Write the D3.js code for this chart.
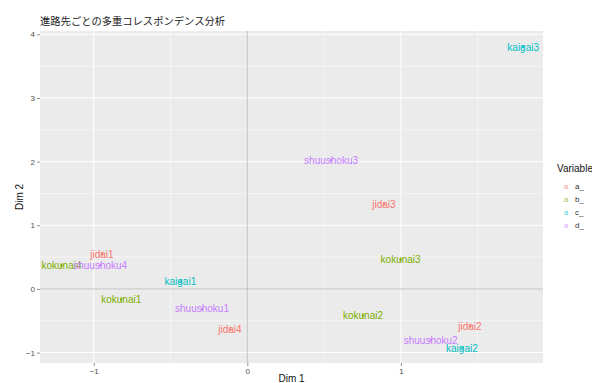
<!DOCTYPE html>
<html><head><meta charset="utf-8">
<script src="https://cdn.jsdelivr.net/npm/d3@7"></script>
<style>body{margin:0;background:#fff}svg{display:block;font-family:"Liberation Sans",Arial,sans-serif}</style>
</head><body><svg id="c" width="592" height="383"></svg>
<script>
const labels = ["jidai1","jidai2","jidai3","jidai4","kokunai1","kokunai2","kokunai3","kokunai4","kaigai1","kaigai2","kaigai3","shuushoku1","shuushoku2","shuushoku3","shuushoku4"];
const groups = ["a_","a_","a_","a_","b_","b_","b_","b_","c_","c_","c_","d_","d_","d_","d_"];
const dim1 = [-0.947,1.449,0.889,-0.113,-0.821,0.753,0.998,-1.21,-0.436,1.397,1.796,-0.295,1.194,0.545,-0.958];
const dim2 = [0.546,-0.587,1.33,-0.638,-0.167,-0.418,0.462,0.37,0.11,-0.937,3.80,-0.315,-0.807,2.02,0.37];
const legendKeys = ["a_","b_","c_","d_"];
const colors = ["#F8766D","#7CAE00","#00BFC4","#C77CFF"];
const xTicks = [-1,0,1];
const yTicks = [-1,0,1,2,3,4];
const title = "進路先ごとの多重コレスポンデンス分析";

const svg = d3.select("#c");
const L=40,R=543,T=31,B=363;
const x = d3.scaleLinear().domain([-1.35,1.925]).range([L,R]);
const y = d3.scaleLinear().domain([-1.164,4.052]).range([B,T]);
const col = d3.scaleOrdinal().domain(legendKeys).range(colors);

svg.append("rect").attr("x",L).attr("y",T).attr("width",R-L).attr("height",B-T).attr("fill","#EBEBEB");
const g = svg.append("g");
const xMinor = [-1.5,-0.5,0.5,1.5].filter(v=>x(v)>L&&x(v)<R);
const yMinor = [-0.5,0.5,1.5,2.5,3.5];
g.selectAll(".xm").data(xMinor).join("line").attr("x1",d=>x(d)).attr("x2",d=>x(d)).attr("y1",T).attr("y2",B).attr("stroke","#fff").attr("stroke-width",0.5);
g.selectAll(".ym").data(yMinor).join("line").attr("y1",d=>y(d)).attr("y2",d=>y(d)).attr("x1",L).attr("x2",R).attr("stroke","#fff").attr("stroke-width",0.5);
g.selectAll(".xM").data(xTicks).join("line").attr("x1",d=>x(d)).attr("x2",d=>x(d)).attr("y1",T).attr("y2",B).attr("stroke","#fff").attr("stroke-width",1);
g.selectAll(".yM").data(yTicks).join("line").attr("y1",d=>y(d)).attr("y2",d=>y(d)).attr("x1",L).attr("x2",R).attr("stroke","#fff").attr("stroke-width",1);
// zero reference lines
g.append("line").attr("x1",x(0)).attr("x2",x(0)).attr("y1",T).attr("y2",B).attr("stroke","#9a9a9a").attr("stroke-width",0.6);
g.append("line").attr("y1",y(0)).attr("y2",y(0)).attr("x1",L).attr("x2",R).attr("stroke","#9a9a9a").attr("stroke-width",0.6);

// axes
const xa = svg.append("g").attr("transform",`translate(0,${B})`).call(d3.axisBottom(x).tickValues(xTicks).tickSize(3).tickPadding(2).tickFormat(d3.format("d")));
const ya = svg.append("g").attr("transform",`translate(${L},0)`).call(d3.axisLeft(y).tickValues(yTicks).tickSize(3).tickPadding(2).tickFormat(d3.format("d")));
[xa,ya].forEach(a=>{a.select(".domain").remove();a.selectAll("line").attr("stroke","#444").attr("stroke-width",0.6);a.selectAll("text").attr("fill","#4D4D4D").style("font-size","8px").style("font-family","Liberation Sans, Arial, sans-serif");});

// points and labels
const data = labels.map((l,i)=>({l,g:groups[i],x:dim1[i],y:dim2[i]}));
svg.append("g").selectAll("circle").data(data).join("circle").attr("cx",d=>x(d.x)).attr("cy",d=>y(d.y)).attr("r",1.3).attr("fill",d=>col(d.g)).attr("opacity",0.9);
svg.append("g").selectAll("text").data(data).join("text").attr("x",d=>x(d.x)).attr("y",d=>y(d.y)).attr("dy","0.35em").attr("text-anchor","middle").attr("fill",d=>col(d.g)).style("font-size","10px").text(d=>d.l);

// title & axis titles
svg.append("text").attr("x",L).attr("y",25).style("font-family","'Noto Sans CJK JP',sans-serif").style("font-size","10.3px").attr("fill","#222").text(title);
svg.append("text").attr("x",(L+R)/2).attr("y",382).attr("text-anchor","middle").style("font-size","10px").attr("fill","#111").text("Dim 1");
svg.append("text").attr("transform",`translate(23,${(T+B)/2}) rotate(-90)`).attr("text-anchor","middle").style("font-size","10px").attr("fill","#111").text("Dim 2");

// legend
const lg = svg.append("g");
lg.append("text").attr("x",557).attr("y",172).style("font-size","10px").attr("fill","#111").text("Variable");
const rows = lg.selectAll("g").data(legendKeys).join("g").attr("transform",(d,i)=>`translate(0,${186+i*13})`);
rows.append("text").attr("x",566).attr("y",0).attr("dy","0.35em").attr("text-anchor","middle").style("font-size","8px").attr("fill",d=>col(d)).attr("opacity",0.7).text("a");
rows.append("text").attr("x",575).attr("y",0).attr("dy","0.35em").style("font-size","8px").attr("fill","#333").text(d=>d);
</script></body></html>
